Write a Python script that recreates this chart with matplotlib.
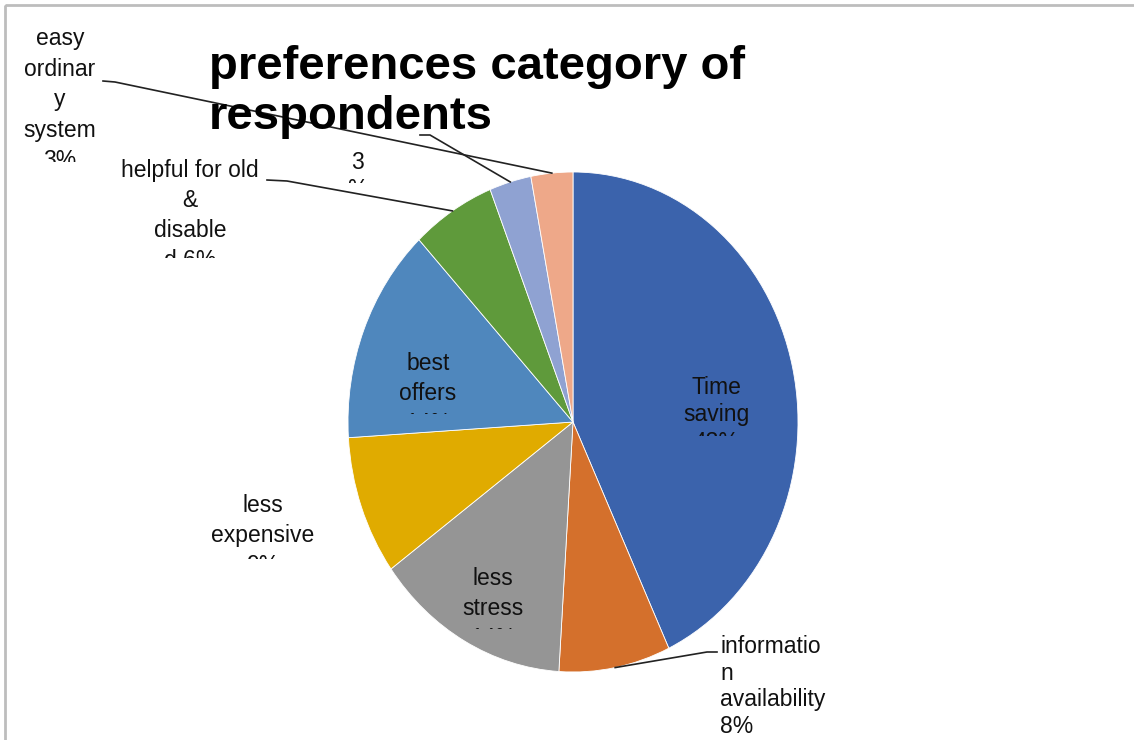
import numpy as np
import matplotlib
matplotlib.use("Agg")
import matplotlib.pyplot as plt
from matplotlib.transforms import Bbox
from matplotlib.patches import Rectangle

plt.rcParams['font.family'] = ['Liberation Sans', 'DejaVu Sans']

# slice data, clockwise from 12 o'clock
labels = ["Time saving", "information availability", "less stress", "less expensive",
          "best offers", "helpful for old & disable", "", "easy ordinary system"]
shares = [43, 8, 14, 9, 14, 6, 3, 3]
colors = ["#3B63AC", "#D4702C", "#959595", "#E0AB00",
          "#4F87BD", "#5F9A3B", "#8FA2D2", "#EEA889"]

W, H = 1134, 740
fig = plt.figure(figsize=(W / 100, H / 100), dpi=100)

# pie lives in its own axes, stretched into an ellipse
cx, cy, rx, ry = 573, 422, 225, 250
ax = fig.add_axes([(cx - rx) / W, (H - cy - ry) / H, 2 * rx / W, 2 * ry / H])
wedges, _ = ax.pie(shares, colors=colors, startangle=90, counterclock=False, radius=1,
                   wedgeprops=dict(edgecolor="white", linewidth=0.6))
ax.set_aspect("auto")
ax.set_xlim(-1, 1)
ax.set_ylim(-1, 1)
ax.axis("off")

# overlay in pixel coordinates (origin top-left) for text and leaders
ov = fig.add_axes([0, 0, 1, 1], zorder=5)
ov.set_xlim(0, W)
ov.set_ylim(H, 0)
ov.axis("off")
ov.patch.set_alpha(0)

# chart frame
ov.add_patch(Rectangle((5, 5), W + 10, H + 10, fill=False, edgecolor="#BDBDBD", lw=2))

ov.text(209, 45, "preferences category of\nrespondents", fontsize=34, fontweight="bold",
        ha="left", va="top", linespacing=1.17)


def edge_point(i):
    # middle of the wedge's outer arc, in overlay pixels
    w = wedges[i]
    a = np.deg2rad((w.theta1 + w.theta2) / 2)
    disp = ax.transData.transform((np.cos(a), np.sin(a)))
    return ov.transData.inverted().transform(disp)


def label(x, y, s, clip=None, ha="center", sp=1.38):
    t = ov.text(x, y, s, fontsize=16.5, ha=ha, va="top", multialignment=ha,
                linespacing=sp, color="#111111")
    if clip is not None:
        t.set_clip_box(Bbox.from_extents(0, H - clip, W, H))
        t.set_clip_on(True)
    return t


label(716, 376, "Time\nsaving\n43%", clip=436, sp=1.25)
label(428, 352, "best\noffers\n14%", clip=414)
label(263, 494, "less\nexpensive\n9%", clip=559)
label(493, 567, "less\nstress\n14%", clip=629)
label(190, 159, "helpful for old\n&\ndisable\nd 6%", clip=258)
label(357, 151, "3\n%", clip=183, sp=1.2)
label(60, 27, "easy\nordinar\ny\nsystem\n3%", clip=162, sp=1.42)
label(720, 635, "informatio\nn\navailability\n8%", ha="left", sp=1.2)

# leader lines: label -> knee -> wedge arc
leaders = [(7, (103, 81), (115, 82)),
           (6, (420, 135), (430, 135)),
           (5, (267, 180), (287, 181)),
           (1, (717, 652), (707, 652))]
for i, p0, p1 in leaders:
    ex, ey = edge_point(i)
    ov.plot([p0[0], p1[0], ex], [p0[1], p1[1], ey], color="#222222", lw=1.2,
            solid_joinstyle="round")

fig.savefig("out.png", dpi=100)
